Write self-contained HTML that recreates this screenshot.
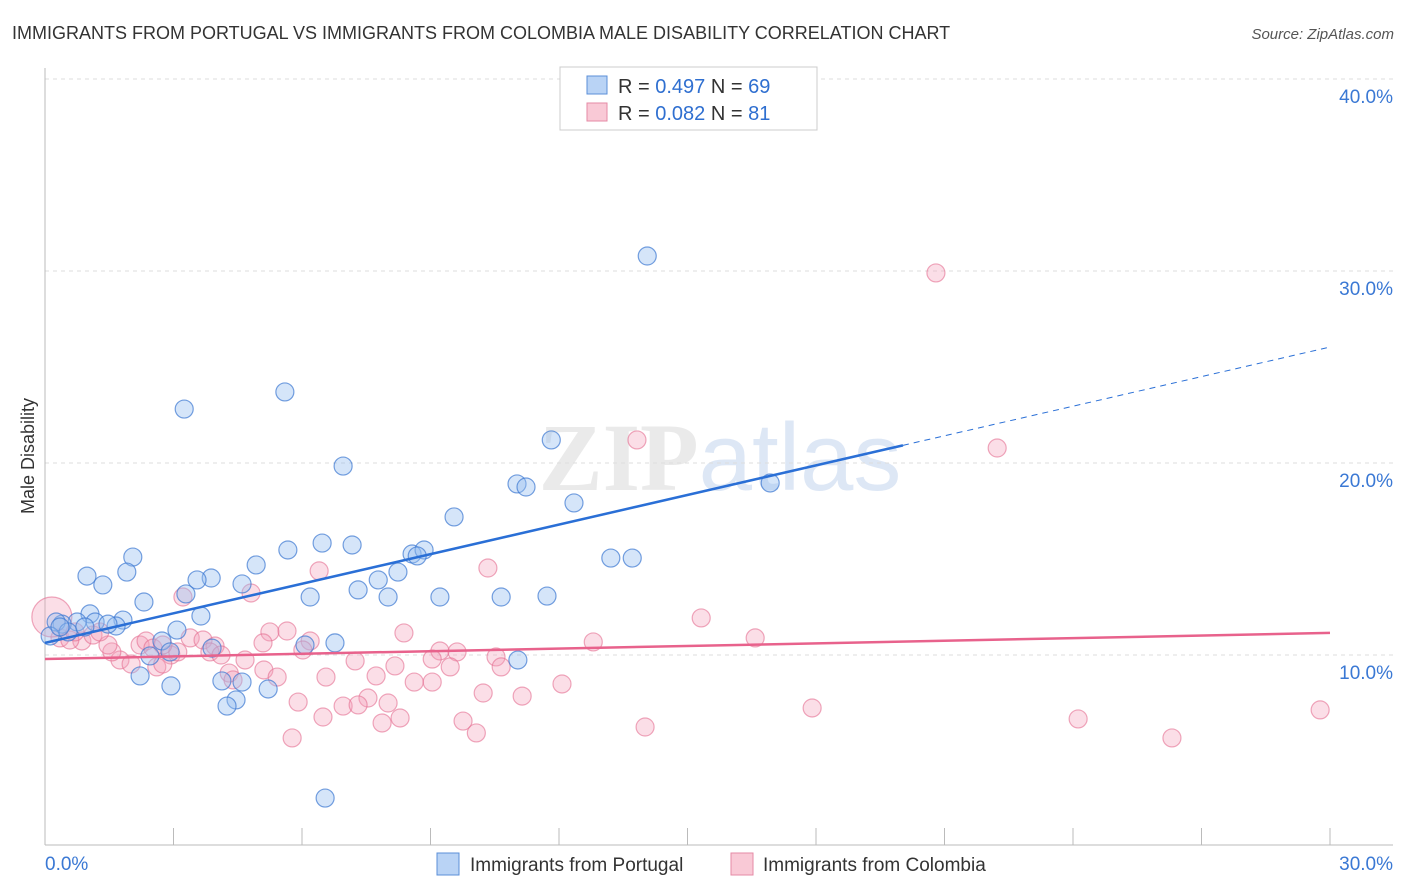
<!DOCTYPE html>
<html><head><meta charset="utf-8"><style>
body{margin:0;background:#fff;font-family:"Liberation Sans",sans-serif;}
svg{display:block}
</style></head><body>
<svg id="chart" width="1406" height="892">
<text x="12" y="39" font-size="18" fill="#333">IMMIGRANTS FROM PORTUGAL VS IMMIGRANTS FROM COLOMBIA MALE DISABILITY CORRELATION CHART</text>
<text x="1394" y="39" font-size="15" fill="#555" font-style="italic" text-anchor="end">Source: ZipAtlas.com</text>
<text x="34" y="456" font-size="18" fill="#333" text-anchor="middle" transform="rotate(-90 34 456)">Male Disability</text>
<text x="720" y="490" font-size="96" fill="#ddd" text-anchor="middle" font-family="Liberation Serif" font-weight="bold" opacity="0.6">ZIP<tspan fill="#c8d8f0" font-family="Liberation Sans" font-weight="normal">atlas</tspan></text>
<g id="grid"></g><g id="axes"></g><g id="pts"></g><g id="trend"></g>
<g>
<rect x="560" y="67" width="257" height="63" fill="#fff" stroke="#ccc"/>
<rect x="587" y="76" width="20" height="18" fill="#b9d3f5" stroke="#5b8fd8"/>
<rect x="587" y="103" width="20" height="18" fill="#f9c9d6" stroke="#e58aa5"/>
<text x="618" y="93" font-size="20" fill="#333">R = <tspan fill="#2f6fd0">0.497</tspan>   N = <tspan fill="#2f6fd0">69</tspan></text>
<text x="618" y="120" font-size="20" fill="#333">R = <tspan fill="#2f6fd0">0.082</tspan>   N =  <tspan fill="#2f6fd0">81</tspan></text>
</g>
<g>
<rect x="437" y="853" width="22" height="22" fill="#b9d3f5" stroke="#5b8fd8"/>
<text x="470" y="871" font-size="19" fill="#333">Immigrants from Portugal</text>
<rect x="731" y="853" width="22" height="22" fill="#f9c9d6" stroke="#e58aa5"/>
<text x="763" y="871" font-size="19" fill="#333">Immigrants from Colombia</text>
</g>
</svg>
<script>
const yTicks=[10,20,30,40];
const yTickLabels=["10.0%","20.0%","30.0%","40.0%"];
const xTickLabels=["0.0%","30.0%"];
const blueX=[14.06,5.60,3.25,6.96,11.82,11.02,11.23,16.93,12.35,9.55,6.47,7.17,5.67,8.57,8.85,8.69,13.21,13.71,2.05,0.98,1.91,3.88,3.55,4.93,4.60,7.78,8.24,1.35,3.29,6.19,7.31,8.01,9.22,10.65,11.72,2.31,3.64,1.05,1.17,1.82,1.66,1.47,0.75,0.40,0.26,0.12,0.54,3.08,2.73,2.92,2.45,3.90,6.07,6.77,11.04,2.22,2.94,4.13,4.60,5.21,4.46,4.25,6.54,0.35,0.93];
const blueY=[30.78,23.70,22.81,19.84,21.20,18.91,18.75,18.96,17.92,17.19,15.83,15.73,15.47,15.26,15.47,15.16,15.05,15.05,15.10,14.11,14.32,14.01,13.91,14.69,13.70,13.91,14.32,13.65,13.18,13.02,13.39,13.02,13.02,13.02,13.07,12.76,12.03,12.14,11.72,11.82,11.51,11.61,11.72,11.61,11.72,10.99,11.20,11.30,10.73,10.16,9.95,10.36,10.52,10.63,9.74,8.91,8.39,8.65,8.59,8.23,7.66,7.34,2.55,11.46,11.46];
const pinkX=[20.80,13.82,22.23,6.40,10.34,4.81,3.22,15.32,8.38,16.58,12.80,5.25,5.65,6.19,3.39,3.69,3.97,9.22,9.62,10.53,10.65,7.24,8.17,9.04,9.46,6.02,5.09,4.67,5.11,5.42,4.30,4.39,6.56,7.73,8.62,9.04,12.07,10.23,11.14,5.91,7.54,8.01,6.96,7.31,8.29,6.49,7.87,9.76,10.07,5.77,14.01,17.91,24.12,26.31,29.77,1.75,2.01,2.61,1.56,1.47,0.86,2.22,2.36,2.52,2.94,3.10,2.75,0.35,0.58,1.12,1.28,0.16,0.70,3.85,4.11,2.75];
const pinkY=[29.90,21.20,20.78,14.38,14.53,13.23,13.02,11.93,11.15,10.89,10.68,11.20,11.25,10.73,10.89,10.78,10.47,10.21,10.16,9.90,9.38,9.69,9.43,9.79,9.38,10.26,10.63,9.74,9.22,8.85,9.06,8.70,8.85,8.91,8.59,8.59,8.49,8.02,7.86,7.55,7.76,7.50,7.34,7.40,6.72,6.77,6.46,6.56,5.94,5.68,6.25,7.24,6.67,5.68,7.14,9.74,9.53,9.38,10.16,10.52,10.73,10.52,10.73,10.36,10.00,10.16,9.53,10.89,10.78,11.04,11.20,11.98,11.20,10.16,10.00,10.52];
const blueTrend=[10.63,26.04]; const blueSolidEnd=20.03;
const pinkTrend=[9.79,11.15];
const X=v=>45+v/30*1285, Y=v=>847-v*19.2;
const NS="http://www.w3.org/2000/svg";
function mk(g,t,a){const e=document.createElementNS(NS,t);for(const k in a)e.setAttribute(k,a[k]);document.getElementById(g).appendChild(e);return e;}
yTicks.forEach((t,i)=>{
 const l=mk('grid','line',{x1:45,x2:1393,y1:Y(t),y2:Y(t),stroke:'#ddd','stroke-dasharray':'4,4'});
 
 
 const tx=mk('grid','text',{x:1393,y:Y(t)+24,'font-size':19,fill:'#3a78d4','text-anchor':'end'});
 tx.textContent=yTickLabels[i];
 
 
});
const ax=mk('axes','line',{x1:45,x2:45,y1:68,y2:845,stroke:'#bbb'});


const bx=mk('axes','line',{x1:45,x2:1393,y1:845,y2:845,stroke:'#bbb'});


for(let i=1;i<=10;i++){const tk=mk('axes','line',{x1:X(i*3),x2:X(i*3),y1:828,y2:845,stroke:'#bbb'});
 
 }
[[0,45,'start'],[30,1393,'end']].forEach((d,i)=>{const t=mk('axes','text',{x:d[1],y:870,'font-size':19,fill:'#3a78d4','text-anchor':d[2]});t.textContent=xTickLabels[i];
 
 });
pinkX.forEach((x,i)=>{const c=mk('pts','circle',{cx:X(x),cy:Y(pinkY[i]),r:i==71?20:9,fill:'rgba(244,160,185,0.35)',stroke:'rgba(228,110,145,0.6)','stroke-width':1.2});
 
 });
blueX.forEach((x,i)=>{const c=mk('pts','circle',{cx:X(x),cy:Y(blueY[i]),r:9,fill:'rgba(150,190,240,0.4)',stroke:'rgba(60,120,210,0.7)','stroke-width':1.2});
 
 });
const bl=x=>blueTrend[0]+(blueTrend[1]-blueTrend[0])*x/30;
let t1=mk('trend','line',{x1:X(0),y1:Y(bl(0)),x2:X(blueSolidEnd),y2:Y(bl(blueSolidEnd)),stroke:'#2a6fd6','stroke-width':2.5});


let t2=mk('trend','line',{x1:X(blueSolidEnd),y1:Y(bl(blueSolidEnd)),x2:X(30),y2:Y(bl(30)),stroke:'#2a6fd6','stroke-width':1,'stroke-dasharray':'6,5'});


let t3=mk('trend','line',{x1:X(0),y1:Y(pinkTrend[0]),x2:X(30),y2:Y(pinkTrend[1]),stroke:'#e8628c','stroke-width':2.5});


</script>
</body></html>
